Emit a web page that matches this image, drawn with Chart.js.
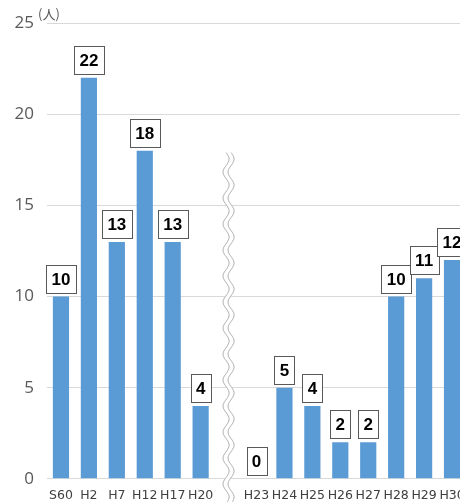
<!DOCTYPE html>
<html>
<head>
<meta charset="utf-8">
<script src="https://cdn.jsdelivr.net/npm/chart.js@4"></script>
<style>
  html, body { margin: 0; padding: 0; background: #fff; overflow: hidden; }
  #wrap { width: 466px; height: 502px; position: relative; }
</style>
</head>
<body>
<div id="wrap"><canvas id="people"></canvas></div>
<script>
// empty label = the gap where the axis is broken
const years = ["S60", "H2", "H7", "H12", "H17", "H20", "", "H23", "H24", "H25", "H26", "H27", "H28", "H29", "H30"];
const counts = [10, 22, 13, 18, 13, 4, null, 0, 5, 4, 2, 2, 10, 11, 12];
const yTicks = [0, 5, 10, 15, 20, 25];
const breakIndex = 6;
const breakTop = 17.9;

// boxed value labels above each bar
const valueBoxes = {
  id: "valueBoxes",
  afterDatasetsDraw(chart) {
    const ctx = chart.ctx;
    const meta = chart.getDatasetMeta(0);
    ctx.save();
    ctx.font = "bold 17px 'Liberation Sans', Arial, sans-serif";
    ctx.textAlign = "center";
    ctx.textBaseline = "middle";
    meta.data.forEach((bar, i) => {
      const v = counts[i];
      if (v === null) return;
      const txt = String(v);
      const w = Math.round(ctx.measureText(txt).width + 11);
      const h = 28;
      const bottom = bar.y - 4;
      const left = Math.round(bar.x - w / 2) + 0.5;
      const top = Math.round(bottom - h) + 0.5;
      ctx.fillStyle = "#fff";
      ctx.fillRect(left, top, w, h);
      ctx.strokeStyle = "#595959";
      ctx.lineWidth = 1;
      ctx.strokeRect(left, top, w, h);
      ctx.fillStyle = "#000";
      ctx.fillText(txt, bar.x, top + h / 2 + 1);
    });
    ctx.restore();
  }
};

// wavy double line marking the broken time axis
const axisBreak = {
  id: "axisBreak",
  afterDraw(chart) {
    const ctx = chart.ctx;
    const cx = chart.scales.x.getPixelForValue(breakIndex);
    const top = chart.scales.y.getPixelForValue(breakTop);
    const bottom = chart.height;
    const wave = (off) => {
      ctx.beginPath();
      for (let yy = top; yy <= bottom; yy += 1) {
        const xx = cx + off + 3 * Math.sin((yy - top) / 26 * Math.PI * 2);
        if (yy === top) ctx.moveTo(xx, yy); else ctx.lineTo(xx, yy);
      }
      ctx.stroke();
    };
    ctx.save();
    ctx.strokeStyle = "#fff";
    ctx.lineWidth = 5;
    wave(0);
    ctx.strokeStyle = "#a6a6a6";
    ctx.lineWidth = 1;
    wave(-2.5);
    wave(2.5);
    ctx.restore();
  }
};

// unit label "(人)"
const unitLabel = {
  id: "unitLabel",
  afterDraw(chart) {
    const ctx = chart.ctx;
    ctx.save();
    ctx.font = "13px 'Noto Sans CJK JP', sans-serif";
    ctx.fillStyle = "#595959";
    ctx.textBaseline = "middle";
    ctx.fillText("(人)", 38, 14);
    ctx.restore();
  }
};

new Chart(document.getElementById("people"), {
  type: "bar",
  data: {
    labels: years,
    datasets: [{
      data: counts,
      backgroundColor: "#5b9bd5",
      barPercentage: 0.58,
      categoryPercentage: 1
    }]
  },
  options: {
    responsive: true,
    maintainAspectRatio: false,
    animation: false,
    layout: { padding: { top: 23, left: 0, right: 0, bottom: 0 } },
    plugins: { legend: { display: false }, tooltip: { enabled: false } },
    scales: {
      x: {
        grid: { display: false },
        border: { color: "#d9d9d9" },
        ticks: {
          autoSkip: false,
          maxRotation: 0,
          padding: 1,
          color: "#404040",
          font: { family: "'DejaVu Sans', Verdana, sans-serif", size: 12.5 }
        },
        afterFit: (s) => { s.height = 23; }
      },
      y: {
        min: 0,
        max: 25,
        afterBuildTicks: (s) => { s.ticks = yTicks.map(v => ({ value: v })); },
        grid: { color: "#d9d9d9", drawTicks: false },
        border: { display: false },
        ticks: {
          padding: 13,
          color: "#595959",
          font: { family: "'Open Sans', sans-serif", size: 17 }
        },
        afterFit: (s) => { s.width = 47; }
      }
    }
  },
  plugins: [valueBoxes, axisBreak, unitLabel]
});
</script>
</body>
</html>
